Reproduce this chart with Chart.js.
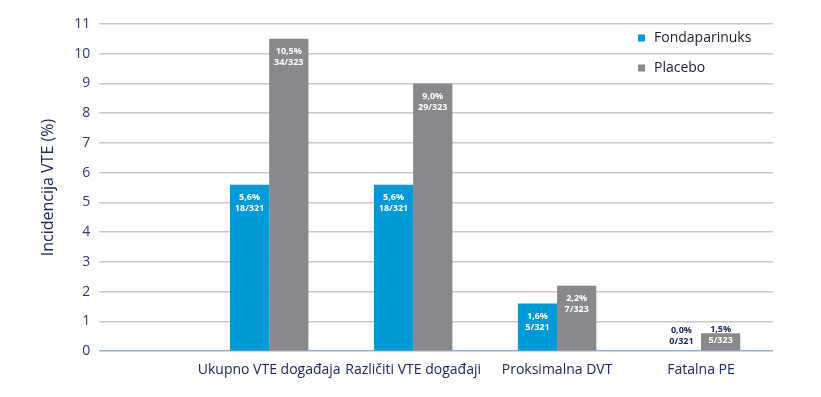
<!DOCTYPE html>
<html>
<head>
<meta charset="utf-8">
<script src="https://cdn.jsdelivr.net/npm/chart.js@4"></script>
<style>
  html, body { margin: 0; padding: 0; background: #fff; }
  #wrap { width: 821px; height: 397px; }
</style>
</head>
<body>
<div id="wrap"><canvas id="vteChart"></canvas></div>
<script>
// ===== DATA =====
const categories    = ['Ukupno VTE događaja', 'Različiti VTE događaji', 'Proksimalna DVT', 'Fatalna PE'];
const seriesNames   = ['Fondaparinuks', 'Placebo'];
// bar heights as drawn in the figure
const fondaValues   = [5.6, 5.6, 1.6, 0.0];
const placeboValues = [10.5, 9.0, 2.2, 0.6];
// printed labels
const fondaPct      = ['5,6%', '5,6%', '1,6%', '0,0%'];
const placeboPct    = ['10,5%', '9,0%', '2,2%', '1,5%'];
const fondaCounts   = ['18/321', '18/321', '5/321', '0/321'];
const placeboCounts = ['34/323', '29/323', '7/323', '5/323'];
const yMin = 0, yMax = 11, yStep = 1;

const NAVY = '#1b2860';
const COLORS = ['#009ad9', '#89898d'];
const FONT = "'Open Sans', sans-serif";

// two-line labels at the top of each bar
const barLabels = {
  id: 'barLabels',
  afterDatasetsDraw(chart) {
    const ctx = chart.ctx;
    const pcts = [fondaPct, placeboPct];
    const counts = [fondaCounts, placeboCounts];
    ctx.save();
    ctx.font = `bold 9px ${FONT}`;
    ctx.textAlign = 'center';
    ctx.textBaseline = 'middle';
    chart.data.datasets.forEach((ds, di) => {
      chart.getDatasetMeta(di).data.forEach((bar, i) => {
        const top = bar.y;
        const y1 = Math.min(top + 13, bar.base - 21);
        const y2 = y1 + 11;
        ctx.fillStyle = y1 < top ? NAVY : '#fff';
        ctx.fillText(pcts[di][i], bar.x, y1);
        ctx.fillStyle = y2 < top ? NAVY : '#fff';
        ctx.fillText(counts[di][i], bar.x, y2);
      });
    });
    ctx.restore();
  },
};

// legend inside the plot, top right
const innerLegend = {
  id: 'innerLegend',
  afterDraw(chart) {
    const ctx = chart.ctx;
    const area = chart.chartArea;
    ctx.save();
    ctx.font = `14px ${FONT}`;
    ctx.textBaseline = 'middle';
    chart.data.datasets.forEach((ds, i) => {
      const x = area.right - 135;
      const y = area.top + 14 + i * 30;
      ctx.fillStyle = ds.backgroundColor;
      ctx.fillRect(x, y - 3.5, 7, 7);
      ctx.fillStyle = '#1b1b33';
      ctx.fillText(ds.label, x + 16, y);
    });
    ctx.restore();
  },
};

const gridColor = (c) => (c.tick && c.tick.value === 0 ? '#93b1d6' : '#c9c9c9');

new Chart(document.getElementById('vteChart'), {
  type: 'bar',
  data: {
    labels: categories,
    datasets: [
      { label: seriesNames[0], data: fondaValues,   backgroundColor: COLORS[0] },
      { label: seriesNames[1], data: placeboValues, backgroundColor: COLORS[1] },
    ],
  },
  options: {
    responsive: true, maintainAspectRatio: false,
    animation: false,
    layout: { padding: { left: 29, right: 48, top: 24, bottom: 9 } },
    datasets: { bar: { barPercentage: 1.0, categoryPercentage: 0.545 } },
    plugins: {
      legend: { display: false },
      tooltip: { enabled: false },
    },
    scales: {
      x: {
        grid: { display: false, drawTicks: false },
        border: { display: false },
        ticks: { color: NAVY, font: { family: FONT, size: 14 }, padding: 10, maxRotation: 0, autoSkip: false },
      },
      y: {
        min: yMin, max: yMax,
        border: { display: false },
        grid: {
          color: gridColor, tickColor: gridColor,
          lineWidth: 1.5, tickLength: 98,
        },
        ticks: { stepSize: yStep, color: '#2d3a6c', font: { family: FONT, size: 14 }, padding: 9 },
        title: {
          display: true, text: 'Incidencija VTE (%)', color: NAVY,
          font: { family: FONT, size: 16 },
          padding: { top: 10, bottom: 7 },
        },
      },
    },
  },
  plugins: [barLabels, innerLegend],
});
</script>
</body>
</html>
